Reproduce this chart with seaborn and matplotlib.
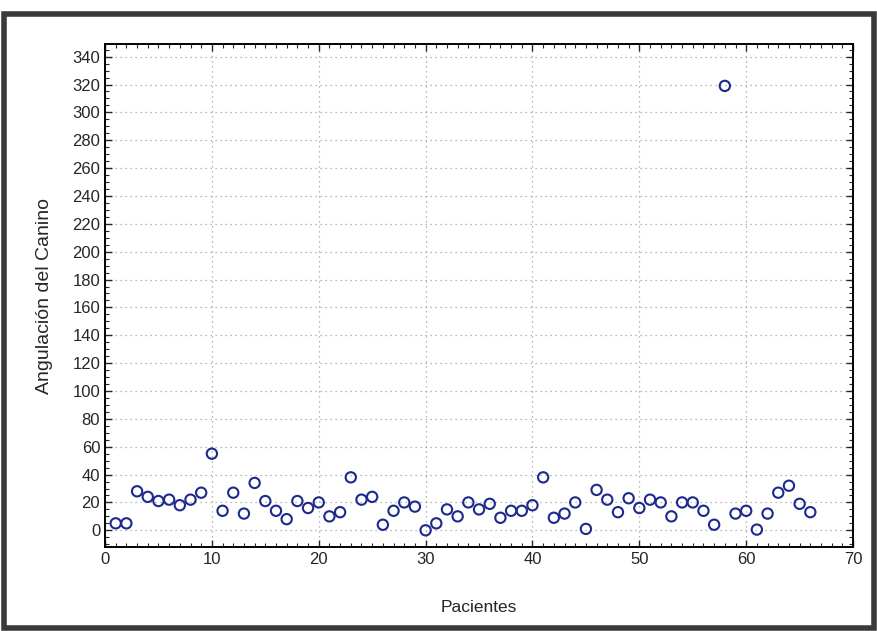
import matplotlib
matplotlib.use('Agg')
import matplotlib.pyplot as plt
from matplotlib.patches import Rectangle
from matplotlib.ticker import MultipleLocator
import pandas as pd
import seaborn as sns

sns.set_style('white')
plt.rcParams['font.family'] = ['Liberation Sans', 'DejaVu Sans']

# one value per patient (1..66)
pacientes = list(range(1, 67))
angulacion = [5, 5, 28, 24, 21, 22, 18, 22, 27, 55,
              14, 27, 12, 34, 21, 14, 8, 21, 16, 20,
              10, 13, 38, 22, 24, 4, 14, 20, 17, 0,
              5, 15, 10, 20, 15, 19, 9, 14, 14, 18,
              38, 9, 12, 20, 1, 29, 22, 13, 23, 16,
              22, 20, 10, 20, 20, 14, 4, 319, 12, 14,
              0.5, 12, 27, 32, 19, 13]

df = pd.DataFrame({'Pacientes': pacientes, 'Angulacion': angulacion})

fig = plt.figure(figsize=(8.78, 6.31), dpi=100)
ax = fig.add_axes([0.1196, 0.1331, 0.852, 0.797])

sns.scatterplot(data=df, x='Pacientes', y='Angulacion', ax=ax,
                marker='o', s=55, facecolor='none', edgecolor='#1c2a8c',
                linewidth=1.5)

ax.set_xlim(0, 70)
ax.set_ylim(-12, 349)
ax.xaxis.set_major_locator(MultipleLocator(10))
ax.xaxis.set_minor_locator(MultipleLocator(1))
ax.yaxis.set_major_locator(MultipleLocator(20))
ax.yaxis.set_minor_locator(MultipleLocator(5))
ax.set_yticks(range(0, 341, 20))

ax.grid(True, which='major', linestyle=(0, (1, 3)), color='#a0a0a0', linewidth=0.9)
ax.tick_params(which='both', direction='in', top=True, right=True,
               bottom=True, left=True, labelsize=12)
ax.tick_params(which='major', length=5, width=1)
ax.tick_params(which='minor', length=3, width=0.8)
for s in ax.spines.values():
    s.set_color('black')
    s.set_linewidth(1.4)

ax.set_xlabel('Pacientes', fontsize=12.5, labelpad=24)
ax.set_ylabel('Angulación del Canino', fontsize=14, labelpad=14)

fig.patches.append(Rectangle((0.005, 0.004), 0.99, 0.974, transform=fig.transFigure,
                             fill=False, edgecolor='#3a3a3a', linewidth=4))

fig.savefig('out.png', dpi=100)
